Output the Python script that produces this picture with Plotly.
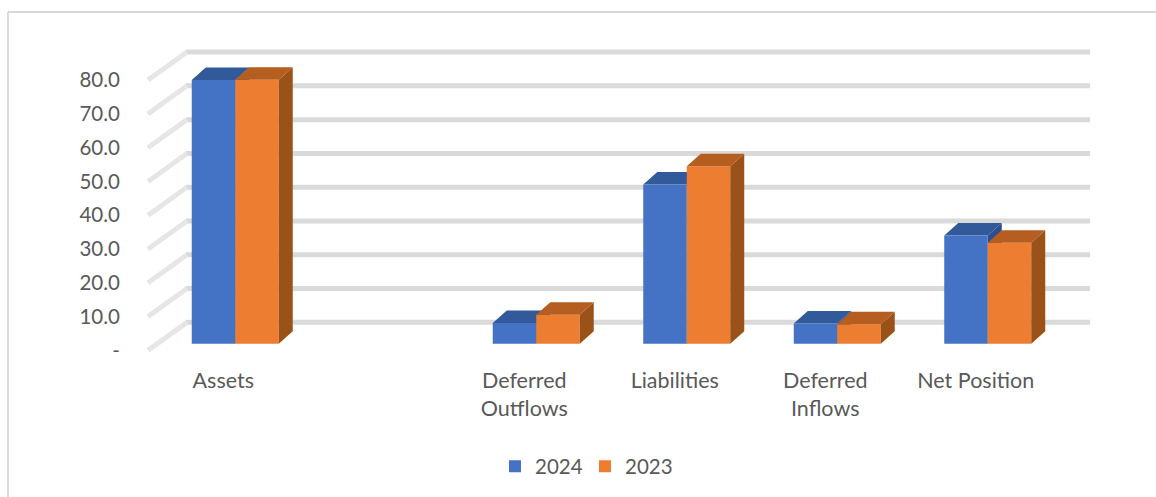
import plotly.graph_objects as go

# --- data ---
categories = ["Assets", "", "Deferred<br>Outflows", "Liabilities", "Deferred<br>Inflows", "Net Position"]
values_2024 = [78.1, None, 6.2, 47.2, 6.0, 32.1]
values_2023 = [78.2, None, 8.6, 52.6, 5.8, 29.9]
y_ticks = [0, 10, 20, 30, 40, 50, 60, 70, 80]
y_labels = ["-", "10.0", "20.0", "30.0", "40.0", "50.0", "60.0", "70.0", "80.0"]

W, H = 1156, 504
S = 1 / 0.989                       # vertical correction measured from the rendered picture
CAT_PX, UNIT_PX = 150.5, 3.375      # px per category / per value unit
LEFT_PX, RIGHT_PX, TOP_PX, BOT_PX = 140, 1095, 40 * S, 356 * S
FRONT_X_PX, ZERO_Y_PX = 148, 350 * S    # front-left corner of the floor

x0_range = -0.5 - (FRONT_X_PX - LEFT_PX) / CAT_PX
x1_range = x0_range + (RIGHT_PX - LEFT_PX) / CAT_PX
y0_range = -(BOT_PX - ZERO_Y_PX) / (UNIT_PX * S)
y1_range = (ZERO_Y_PX - TOP_PX) / (UNIT_PX * S)

WALL_DX, WALL_DY = 39 / CAT_PX, 28 / UNIT_PX
BAR_SHIFT, BAR_BASE = 12 / CAT_PX, 6.5 / UNIT_PX
BAR_W = 43.5 / CAT_PX
DEPTH_DX, DEPTH_DY = 14 / CAT_PX, 12.5 / UNIT_PX
positions = list(range(len(categories)))

GRID, DIAG = "#dadada", "#e6e6e6"
TEXT = "#595959"


def faces(vals, left):
    top_x, top_y, side_x, side_y = [], [], [], []
    for p, v in zip(positions, vals):
        if v is None:
            continue
        a = p + BAR_SHIFT + left
        b = a + BAR_W
        t = BAR_BASE + v
        top_x += [a, b, b + DEPTH_DX, a + DEPTH_DX, a, None]
        top_y += [t, t, t + DEPTH_DY, t + DEPTH_DY, t, None]
        side_x += [b, b + DEPTH_DX, b + DEPTH_DX, b, b, None]
        side_y += [BAR_BASE, BAR_BASE + DEPTH_DY, t + DEPTH_DY, t, BAR_BASE, None]
    return top_x, top_y, side_x, side_y


def face_trace(x, y, color, xa, ya):
    return go.Scatter(x=x, y=y, mode="lines", fill="toself", fillcolor=color,
                      line=dict(width=0, color=color), showlegend=False,
                      hoverinfo="skip", xaxis=xa, yaxis=ya)


fig = go.Figure()

bt_x, bt_y, bs_x, bs_y = faces(values_2024, -BAR_W)
ot_x, ot_y, os_x, os_y = faces(values_2023, 0)

# lower layer: blue depth faces (orange front must hide them)
fig.add_trace(face_trace(bs_x, bs_y, "#2b4f8f", "x", "y"))
fig.add_trace(face_trace(bt_x, bt_y, "#325a9b", "x", "y"))

# upper layer: the bars, then orange depth faces
bar_x = [p + BAR_SHIFT for p in positions]
bar_base = [BAR_BASE] * len(positions)
fig.add_trace(go.Bar(name="2024", x=bar_x, y=values_2024, base=bar_base,
                     marker=dict(color="#4472C4", line=dict(width=0)), xaxis="x2", yaxis="y2"))
fig.add_trace(go.Bar(name="2023", x=bar_x, y=values_2023, base=bar_base,
                     marker=dict(color="#ED7D31", line=dict(width=0)), xaxis="x2", yaxis="y2"))
fig.add_trace(face_trace(os_x, os_y, "#9a5219", "x2", "y2"))
fig.add_trace(face_trace(ot_x, ot_y, "#b55e20", "x2", "y2"))

# back wall gridlines and floor/side diagonals, from the tick values
shapes = []
xl = -0.5
xr = xl + 6
for t in y_ticks:
    shapes.append(dict(type="line", xref="x", yref="y", layer="below",
                       x0=xl + WALL_DX - 0.01, x1=xr + WALL_DX, y0=t + WALL_DY, y1=t + WALL_DY,
                       line=dict(color=GRID, width=5)))
    shapes.append(dict(type="line", xref="x", yref="y", layer="below",
                       x0=xl, x1=xl + WALL_DX, y0=t, y1=t + WALL_DY,
                       line=dict(color=DIAG, width=5)))
# chart frame
for x0, y0, x1, y1 in [(8, 12, W, 12), (8, 12, 8, H)]:
    shapes.append(dict(type="line", xref="paper", yref="paper", layer="below",
                       x0=x0 / W, x1=x1 / W, y0=1 - y0 / H, y1=1 - y1 / H,
                       line=dict(color="#d9d9d9", width=2)))

dom_x = [LEFT_PX / W, RIGHT_PX / W]
dom_y = [1 - BOT_PX / H, 1 - TOP_PX / H]
FAMILY = "Lato, Carlito, sans-serif"
xfont = dict(family=FAMILY, size=21.5, color=TEXT)
yfont = dict(family=FAMILY, size=20.5, color=TEXT)

fig.update_layout(
    width=W, height=H, autosize=False,
    margin=dict(l=0, r=0, t=0, b=0),
    paper_bgcolor="white", plot_bgcolor="rgba(0,0,0,0)",
    barmode="group", bargap=1 - 2 * BAR_W, bargroupgap=0,
    shapes=shapes, font=yfont,
    xaxis=dict(domain=dom_x, range=[x0_range, x1_range], tickmode="array",
               tickvals=positions, ticktext=categories, showgrid=False, zeroline=False,
               showline=False, ticks="outside", ticklen=5, tickcolor="rgba(0,0,0,0)",
               tickangle=0, tickfont=xfont),
    yaxis=dict(domain=dom_y, range=[y0_range, y1_range], tickmode="array",
               tickvals=y_ticks, ticktext=y_labels, showgrid=False, zeroline=False,
               showline=False, ticks="outside", ticklen=15, tickcolor="rgba(0,0,0,0)",
               tickfont=yfont),
    xaxis2=dict(overlaying="x", anchor="y2", range=[x0_range, x1_range], visible=False),
    yaxis2=dict(overlaying="y", anchor="x2", range=[y0_range, y1_range], visible=False),
    legend=dict(orientation="h", x=495 / W, xanchor="left", y=1 - 466 * S / H, yanchor="middle",
                entrywidth=45, entrywidthmode="pixels",
                font=yfont, bgcolor="rgba(0,0,0,0)"),
)

fig.write_html("out.html", config={"displayModeBar": False},
               default_width="1156px", default_height="497px",
               post_script="document.body.style.margin='0';")
